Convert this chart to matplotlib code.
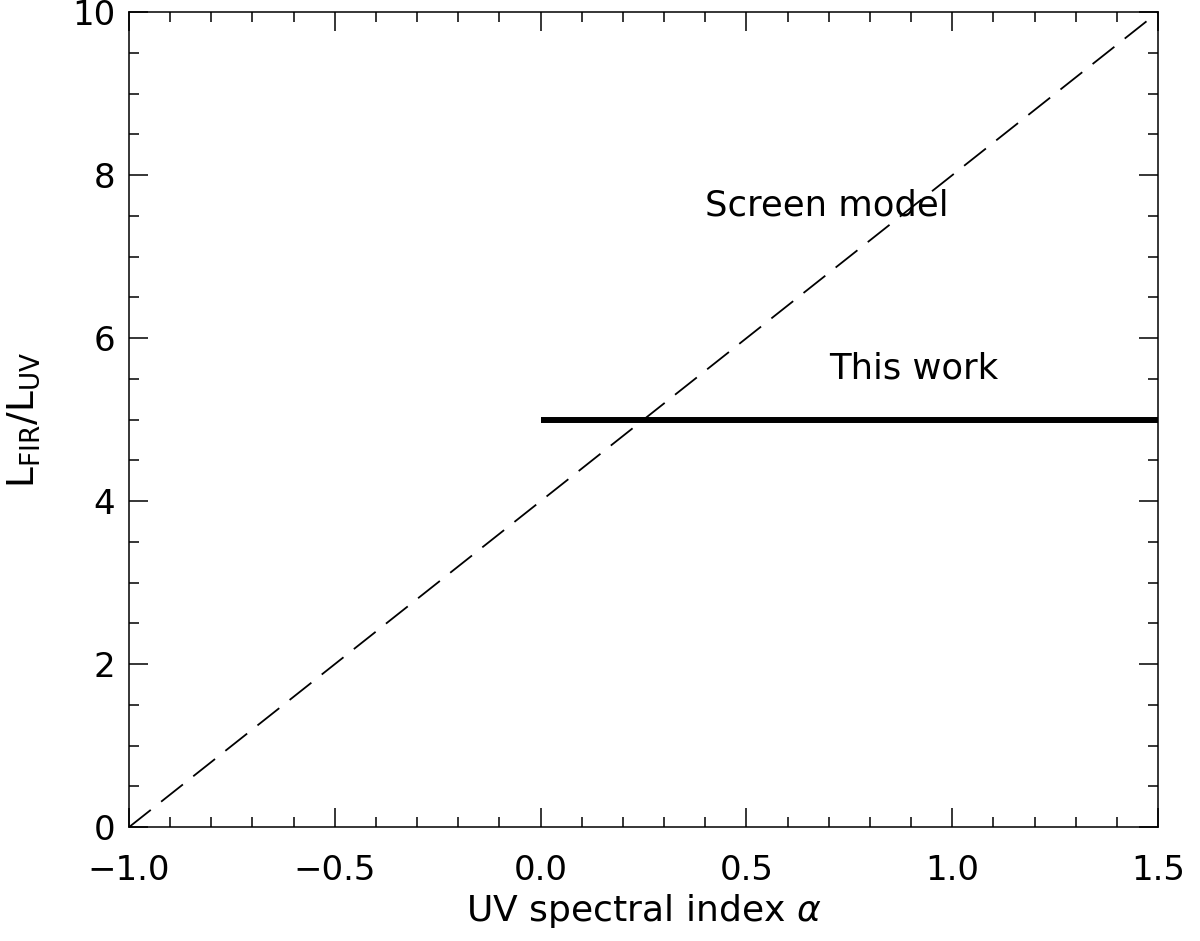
import numpy as np
import matplotlib
matplotlib.use("Agg")
import matplotlib.pyplot as plt
from matplotlib.ticker import MultipleLocator, FixedFormatter, FixedLocator

# data
screen_alpha = [-1.0, 1.5]
screen_ratio = [0.0, 10.0]
work_alpha = [0.0, 1.5]
work_ratio = [5.0, 5.0]

xticks = [-1.0, -0.5, 0.0, 0.5, 1.0, 1.5]
xticklabels = ["\u22121.0", "\u22120.5", "0.0", "0.5", "1.0", "1.5"]
yticks = [0, 2, 4, 6, 8, 10]

plt.rcParams['font.family'] = ['DejaVu Sans']
plt.rcParams['mathtext.fontset'] = 'custom'
plt.rcParams['mathtext.rm'] = 'DejaVu Sans'
plt.rcParams['mathtext.it'] = 'DejaVu Sans:italic'
plt.rcParams['lines.scale_dashes'] = False

fig = plt.figure(figsize=(12, 9.41), dpi=100)
ax = fig.add_axes([0.1075, 0.121, 0.8575, 0.866])

ax.plot(screen_alpha, screen_ratio, color='black', lw=1.3, linestyle=(0, (20, 9.5)))
ax.plot(work_alpha, work_ratio, color='black', lw=4.3, solid_capstyle='butt')

ax.text(0.4, 7.5, "Screen model", fontsize=25.5, ha='left', va='baseline')
ax.text(0.7, 5.5, "This work", fontsize=25.5, ha='left', va='baseline')

ax.set_xlim(-1.0, 1.5)
ax.set_ylim(0, 10)
ax.xaxis.set_major_locator(FixedLocator(xticks))
ax.xaxis.set_major_formatter(FixedFormatter(xticklabels))
ax.xaxis.set_minor_locator(MultipleLocator(0.1))
ax.yaxis.set_major_locator(FixedLocator(yticks))
ax.yaxis.set_minor_locator(MultipleLocator(0.5))

ax.tick_params(which='both', direction='in', top=True, right=True, width=1.1, labelsize=24.5)
ax.tick_params(which='major', length=14)
ax.tick_params(which='minor', length=7)
ax.tick_params(axis='x', which='major', pad=19)
ax.tick_params(axis='y', which='major', pad=10)
for s in ax.spines.values():
    s.set_linewidth(1.1)

ax.set_xlabel(r"UV spectral index $\alpha$", fontsize=26, labelpad=4)
ax.set_ylabel(r"L$_{\rm FIR}$/L$_{\rm UV}$", fontsize=27, labelpad=14)
ax.yaxis.set_label_coords(-0.085, 0.5)

fig.savefig("out.png", dpi=100)
